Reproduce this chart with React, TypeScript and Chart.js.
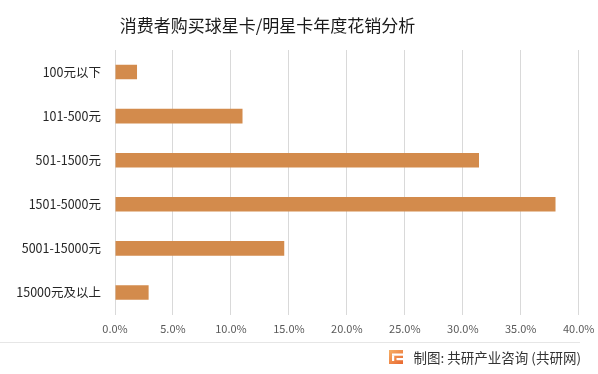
import React, { useEffect, useRef } from "react";
import { Chart, registerables } from "chart.js";

Chart.register(...registerables);

const TITLE = "消费者购买球星卡/明星卡年度花销分析";
const SOURCE = "制图: 共研产业咨询 (共研网)";
const categories = ["100元以下", "101-500元", "501-1500元", "1501-5000元", "5001-15000元", "15000元及以上"];
const shares = [1.9, 11.0, 31.4, 38.0, 14.6, 2.9];
const xMin = 0;
const xMax = 40;
const xStep = 5;

const FONT = '"Noto Sans CJK SC", "Microsoft YaHei", sans-serif';

const decorPlugin = {
  id: "decor",
  beforeDraw(chart: any) {
    const ctx = chart.ctx;
    ctx.save();
    ctx.fillStyle = "#ffffff";
    ctx.fillRect(0, 0, chart.width, chart.height);
    ctx.restore();
  },
  afterDraw(chart: any) {
    const ctx = chart.ctx;
    ctx.save();
    // title
    ctx.fillStyle = "#1a1a1a";
    ctx.font = `17px ${FONT}`;
    ctx.textAlign = "center";
    ctx.textBaseline = "middle";
    ctx.fillText(TITLE, 267.5, 26);
    // separator line
    ctx.strokeStyle = "#e6e6e6";
    ctx.lineWidth = 1;
    ctx.beginPath();
    ctx.moveTo(0, 342.5);
    ctx.lineTo(580, 342.5);
    ctx.stroke();
    // icon
    const g = ctx.createLinearGradient(389, 349, 403, 365);
    g.addColorStop(0, "#f7b267");
    g.addColorStop(1, "#e8652e");
    ctx.fillStyle = g;
    ctx.fillRect(389, 350, 14, 14);
    ctx.fillStyle = "#ffffff";
    ctx.fillRect(392, 353.5, 11, 2.2);
    ctx.fillRect(392, 355.5, 2.2, 5.5);
    ctx.fillRect(396.5, 358, 6.5, 2.2);
    // source
    ctx.fillStyle = "#333333";
    ctx.font = `13.5px ${FONT}`;
    ctx.textAlign = "right";
    ctx.fillText(SOURCE, 581, 357.5);
    ctx.restore();
  },
};

export default function App() {
  const ref = useRef<HTMLCanvasElement | null>(null);
  useEffect(() => {
    if (!ref.current) return;
    Chart.defaults.font.family = FONT;
    const chart = new Chart(ref.current, {
      type: "bar",
      data: {
        labels: categories,
        datasets: [
          {
            data: shares,
            backgroundColor: "#d38b4c",
            borderWidth: 0,
            categoryPercentage: 1,
            barPercentage: 0.33,
          },
        ],
      },
      options: {
        indexAxis: "y",
        responsive: false,
        animation: false,
        layout: { padding: { top: 50, right: 19.3, bottom: 0, left: 0 } },
        plugins: {
          legend: { display: false },
          title: { display: false },
          tooltip: { enabled: false },
        },
        scales: {
          x: {
            min: xMin,
            max: xMax,
            ticks: {
              stepSize: xStep,
              padding: 8,
              color: "#595959",
              font: { size: 11, family: FONT },
              callback: (v: any) => Number(v).toFixed(1) + "%",
              maxRotation: 0,
            },
            grid: { color: "#d9d9d9", lineWidth: 1, drawTicks: false },
            border: { display: false },
            afterFit: (s: any) => {
              s.height = 59.5;
              s.paddingLeft = 0;
              s.paddingRight = 0;
            },
          },
          y: {
            ticks: {
              padding: 14,
              color: "#262626",
              font: { size: 12.5, family: FONT },
            },
            grid: { display: false, drawTicks: false },
            border: { display: false },
            afterFit: (s: any) => {
              s.width = 115;
            },
          },
        },
      },
      plugins: [decorPlugin],
    });
    return () => chart.destroy();
  }, []);
  return (
    <div style={{ position: "absolute", left: 0, top: 0, width: 598, height: 374, background: "#fff" }}>
      <canvas ref={ref} width={598} height={374} />
    </div>
  );
}
